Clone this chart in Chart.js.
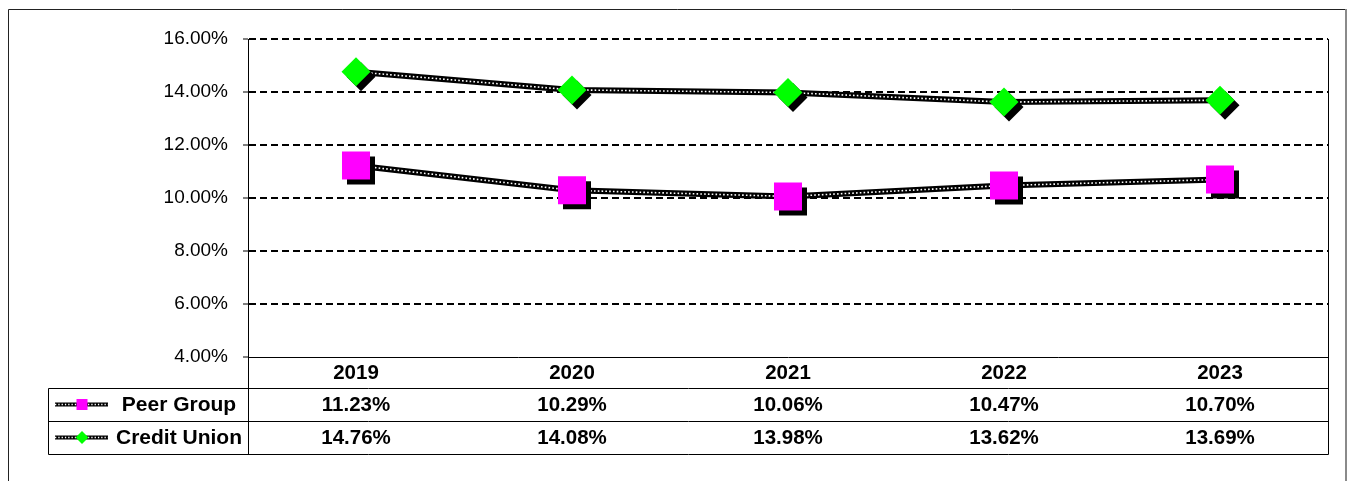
<!DOCTYPE html>
<html><head><meta charset="utf-8">
<script src="https://cdn.jsdelivr.net/npm/chart.js@4.4.1/dist/chart.umd.min.js"></script>
<style>html,body{margin:0;padding:0;background:#fff;overflow:hidden}
#wrap{position:relative;width:1354px;height:481px}</style>
</head><body><div id="wrap"><canvas id="c" width="1354" height="481"></canvas></div>
<script>
// ---- data ----
const years = ['2019', '2020', '2021', '2022', '2023'];
const peerGroup = [11.23, 10.29, 10.06, 10.47, 10.70];
const creditUnion = [14.76, 14.08, 13.98, 13.62, 13.69];
const seriesNames = ['Peer Group', 'Credit Union'];
const yMin = 4, yMax = 16, yStep = 2;

// ---- style ----
const FONT = "'Liberation Sans', Arial, sans-serif";
const PEER_COLOR = '#ff00ff';
const CU_COLOR = '#00ff00';
const fmt = v => v.toFixed(2) + '%';

const shadowPlugin = {
  id: 'markerShadow',
  beforeDatasetDraw(chart, args) {
    const ds = chart.data.datasets[args.index];
    if (ds.markerShadow) {
      const c = chart.ctx, r = chart.currentDevicePixelRatio || 1;
      c.save();
      c.shadowColor = '#000';
      c.shadowOffsetX = 5 * r;
      c.shadowOffsetY = 5 * r;
      c.shadowBlur = 0;
    }
  },
  afterDatasetDraw(chart, args) {
    if (chart.data.datasets[args.index].markerShadow) chart.ctx.restore();
  }
};

function drawKeyLine(ctx, x1, x2, y) {
  ctx.save();
  ctx.strokeStyle = '#000'; ctx.lineWidth = 4;
  ctx.beginPath(); ctx.moveTo(x1, y); ctx.lineTo(x2, y); ctx.stroke();
  ctx.strokeStyle = '#fff'; ctx.lineWidth = 1.3; ctx.setLineDash([1.3, 2]);
  ctx.beginPath(); ctx.moveTo(x1, y); ctx.lineTo(x2, y); ctx.stroke();
  ctx.restore();
}

const tablePlugin = {
  id: 'dataTable',
  afterDraw(chart) {
    const {ctx, chartArea: a, scales: {x}} = chart;
    const px = v => Math.round(v) + 0.5;
    const tableLeft = 48, rowH = 33;
    const r1 = x.bottom, r2 = r1 + rowH, r3 = r2 + rowH;
    ctx.save();
    // outer frame
    ctx.lineWidth = 1; ctx.strokeStyle = '#222';
    ctx.beginPath(); ctx.moveTo(8.5, 481); ctx.lineTo(8.5, 9.5); ctx.lineTo(1346, 9.5); ctx.stroke();
    ctx.strokeStyle = '#8a8a8a'; ctx.lineWidth = 2;
    ctx.beginPath(); ctx.moveTo(1346, 9); ctx.lineTo(1346, 481); ctx.stroke();
    // table lines
    ctx.strokeStyle = '#000'; ctx.lineWidth = 1;
    ctx.beginPath();
    ctx.moveTo(px(a.right), a.top); ctx.lineTo(px(a.right), px(r3));
    ctx.moveTo(px(a.left), a.bottom); ctx.lineTo(px(a.left), px(r3));
    ctx.moveTo(px(tableLeft), px(r1)); ctx.lineTo(px(tableLeft), px(r3));
    [r1, r2, r3].forEach(y => { ctx.moveTo(px(tableLeft), px(y)); ctx.lineTo(px(a.right), px(y)); });
    ctx.stroke();
    // values
    ctx.fillStyle = '#000';
    ctx.font = 'bold 20.5px ' + FONT;
    ctx.textAlign = 'center'; ctx.textBaseline = 'middle';
    const rows = [peerGroup, creditUnion];
    rows.forEach((vals, ri) => {
      const yc = r1 + rowH * ri + rowH / 2 + 1;
      vals.forEach((v, i) => ctx.fillText(fmt(v), x.getPixelForValue(i), yc));
    });
    // legend cells
    rows.forEach((vals, ri) => {
      const yc = r1 + rowH * ri + rowH / 2;
      drawKeyLine(ctx, 55, 108, yc);
      ctx.fillStyle = ri === 0 ? PEER_COLOR : CU_COLOR;
      if (ri === 0) {
        ctx.fillRect(76.5, yc - 5.5, 11, 11);
      } else {
        ctx.beginPath();
        ctx.moveTo(82, yc - 6.5); ctx.lineTo(88.5, yc); ctx.lineTo(82, yc + 6.5); ctx.lineTo(75.5, yc);
        ctx.closePath(); ctx.fill();
      }
      ctx.fillStyle = '#000';
      ctx.font = 'bold 21px ' + FONT;
      ctx.fillText(seriesNames[ri], (110 + a.left) / 2, yc + 1);
    });
    ctx.restore();
  }
};

new Chart(document.getElementById('c'), {
  type: 'line',
  data: {
    labels: years,
    datasets: [
      { label: seriesNames[0], data: peerGroup, showLine: false, markerShadow: true,
        pointStyle: 'rect', pointRadius: 19.8, pointHoverRadius: 19.8, pointBackgroundColor: PEER_COLOR,
        pointBorderWidth: 0, pointBorderColor: PEER_COLOR, order: 0 },
      { label: seriesNames[1], data: creditUnion, showLine: false, markerShadow: true,
        pointStyle: 'rectRot', pointRadius: 14.5, pointHoverRadius: 14.5, pointBackgroundColor: CU_COLOR,
        pointBorderWidth: 0, pointBorderColor: CU_COLOR, order: 0 },
      { data: peerGroup, borderColor: '#fff', borderWidth: 1.6, borderDash: [1.6, 2.2], pointRadius: 0, tension: 0, order: 1 },
      { data: creditUnion, borderColor: '#fff', borderWidth: 1.6, borderDash: [1.6, 2.2], pointRadius: 0, tension: 0, order: 1 },
      { data: peerGroup, borderColor: '#000', borderWidth: 6, pointRadius: 0, tension: 0, order: 2 },
      { data: creditUnion, borderColor: '#000', borderWidth: 6, pointRadius: 0, tension: 0, order: 2 }
    ]
  },
  options: {
    responsive: false,
    animation: false,
    events: [],
    layout: { padding: { left: 0, right: 26, top: 39, bottom: 93 } },
    plugins: { legend: { display: false }, tooltip: { enabled: false } },
    scales: {
      x: {
        type: 'category',
        offset: true,
        grid: { display: true, drawOnChartArea: false, drawTicks: false, offset: true },
        border: { display: true, color: '#000', width: 1 },
        ticks: { color: '#000', font: { family: FONT, size: 20.5, weight: 'bold' }, padding: 4, maxRotation: 0 },
        afterFit: s => { s.height = 31; }
      },
      y: {
        min: yMin, max: yMax,
        grid: {
          color: c => (c.tick && c.tick.value === yMin) ? 'rgba(0,0,0,0)' : '#000',
          lineWidth: 2, tickLength: 5, tickWidth: 1, tickColor: '#000'
        },
        border: { display: true, color: '#000', width: 1, dash: [7, 4] },
        ticks: { stepSize: yStep, color: '#000', padding: 15, font: { family: FONT, size: 19 }, callback: v => fmt(v) },
        afterFit: s => { s.width = 248; }
      }
    }
  },
  plugins: [shadowPlugin, tablePlugin]
});
</script>
</body></html>
